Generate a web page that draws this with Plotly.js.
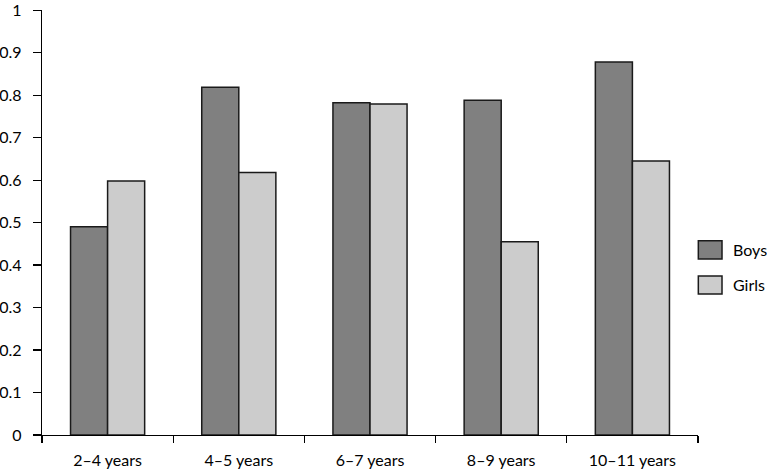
<!DOCTYPE html>
<html>
<head>
<meta charset="utf-8">
<script src="https://cdn.plot.ly/plotly-3.0.1.min.js"></script>
<style>html,body{margin:0;padding:0;background:#fff;}#chart{width:767px;height:473px;}</style>
</head>
<body>
<div id="chart"></div>
<script>
const categories = ["2–4 years", "4–5 years", "6–7 years", "8–9 years", "10–11 years"];
const boys = [0.490, 0.819, 0.782, 0.788, 0.878];
const girls = [0.598, 0.618, 0.779, 0.455, 0.645];
const seriesNames = ["Boys", "Girls"];
const seriesColors = ["#808080", "#cccccc"];
const yTicks = [0, 0.1, 0.2, 0.3, 0.4, 0.5, 0.6, 0.7, 0.8, 0.9, 1];
const yTickLabels = ["0", "0.1", "0.2", "0.3", "0.4", "0.5", "0.6", "0.7", "0.8", "0.9", "1"];

const FONT = "Lato, 'Open Sans', sans-serif";
const series = [boys, girls];
const traces = series.map((vals, i) => ({
  type: "bar",
  name: seriesNames[i],
  x: categories,
  y: vals,
  marker: {color: seriesColors[i], line: {color: "#1a1a1a", width: 1.5}},
  showlegend: false,
  hoverinfo: "x+y+name"
}));

// custom legend (swatches + labels), positioned in paper coordinates
const legendShapes = [];
const legendAnnots = [];
const legTop = [0.4572, 0.3741];
const legBot = [0.4141, 0.3318];
seriesNames.forEach((n, i) => {
  legendShapes.push({
    type: "rect", xref: "paper", yref: "paper",
    x0: 1.0005, x1: 1.0366, y0: legBot[i], y1: legTop[i],
    fillcolor: seriesColors[i], line: {color: "#1a1a1a", width: 1.5}
  });
  legendAnnots.push({
    xref: "paper", yref: "paper", x: 1.0503, y: (legTop[i] + legBot[i]) / 2,
    xanchor: "left", yanchor: "middle", showarrow: false,
    text: n, font: {family: FONT, size: 16, color: "#000"}
  });
});

const layout = {
  width: 767, height: 473,
  margin: {l: 42, r: 69, t: 10, b: 38, pad: 0},
  paper_bgcolor: "#fff", plot_bgcolor: "#fff",
  font: {family: FONT, size: 16, color: "#000"},
  barmode: "group",
  bargap: 0.435,
  bargroupgap: 0,
  showlegend: false,
  xaxis: {
    type: "category",
    showline: true, linecolor: "#000", linewidth: 1.3,
    ticks: "outside", tickson: "boundaries", ticklen: 7, tickcolor: "#000", tickwidth: 1.3,
    showgrid: false, zeroline: false,
    tickfont: {family: FONT, size: 16, color: "#000"},
    ticklabelstandoff: 10
  },
  yaxis: {
    range: [0, 1.0006],
    tickmode: "array",
    tickvals: yTicks, ticktext: yTickLabels,
    showline: true, linecolor: "#000", linewidth: 1.3,
    ticks: "outside", ticklen: 8, tickcolor: "#000", tickwidth: 1.3,
    showgrid: false, zeroline: false,
    tickfont: {family: FONT, size: 16, color: "#000"},
    ticklabelstandoff: 8,
    ticklabeloverflow: "allow"
  },
  shapes: legendShapes,
  annotations: legendAnnots
};

Plotly.newPlot("chart", traces, layout, {displayModeBar: false, staticPlot: true});
</script>
</body>
</html>
